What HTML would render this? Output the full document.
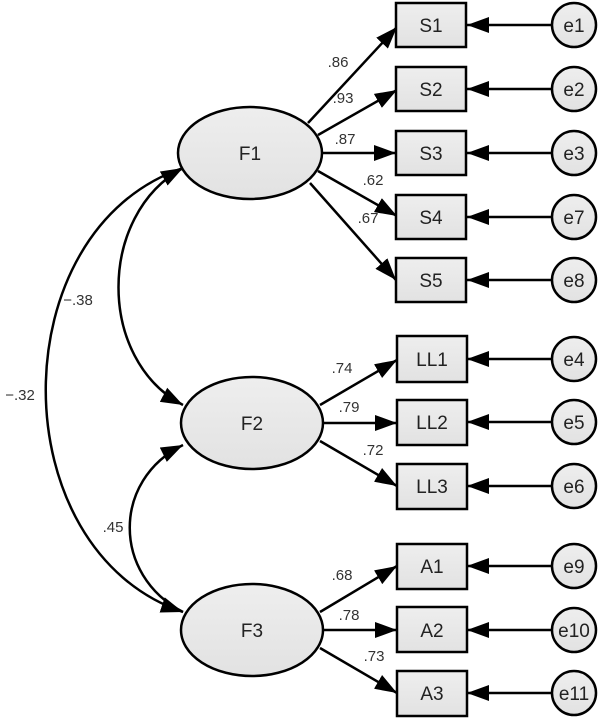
<!DOCTYPE html>
<html><head><meta charset="utf-8"><style>
html,body{margin:0;padding:0;background:#fff;}
svg{display:block;}
</style></head><body>
<svg width="603" height="720" viewBox="0 0 603 720" xmlns="http://www.w3.org/2000/svg">
<defs>
<marker id="a" viewBox="0 0 22 16" refX="22" refY="8" markerWidth="22" markerHeight="16" markerUnits="userSpaceOnUse" orient="auto-start-reverse">
<path d="M0,0 L22,8 L0,16 z" fill="#000"/></marker>
<linearGradient id="g" x1="0" y1="0" x2="0" y2="1"><stop offset="0" stop-color="#eeeeee"/><stop offset="1" stop-color="#e2e2e2"/></linearGradient>
</defs>
<g stroke="#000" stroke-width="2.5" fill="none">
<path d="M183,168 C0,230 0,550 183,612" marker-end="url(#a)"/>
<path d="M183,168 C97,215 97,360 183,405" marker-start="url(#a)" marker-end="url(#a)"/>
<path d="M183,445 C112,480 112,575 183,612" marker-start="url(#a)"/>
<path d="M308,123 L397,27" marker-end="url(#a)"/>
<path d="M318,135 L397,90" marker-end="url(#a)"/>
<path d="M322,153 L396,153" marker-end="url(#a)"/>
<path d="M318,171 L397,216" marker-end="url(#a)"/>
<path d="M310,183 L396,280" marker-end="url(#a)"/>
<path d="M320,405 L397,360" marker-end="url(#a)"/>
<path d="M324,423 L397,423" marker-end="url(#a)"/>
<path d="M320,441 L397,486" marker-end="url(#a)"/>
<path d="M320,612 L397,566" marker-end="url(#a)"/>
<path d="M324,630 L397,630" marker-end="url(#a)"/>
<path d="M320,648 L397,693" marker-end="url(#a)"/>
<path d="M552,25 L467,25" marker-end="url(#a)"/>
<path d="M552,89 L467,89" marker-end="url(#a)"/>
<path d="M552,153 L467,153" marker-end="url(#a)"/>
<path d="M552,217 L467,217" marker-end="url(#a)"/>
<path d="M552,280 L467,280" marker-end="url(#a)"/>
<path d="M552,359 L467,359" marker-end="url(#a)"/>
<path d="M552,422 L467,422" marker-end="url(#a)"/>
<path d="M552,486 L467,486" marker-end="url(#a)"/>
<path d="M552,566 L467,566" marker-end="url(#a)"/>
<path d="M552,630 L467,630" marker-end="url(#a)"/>
<path d="M552,693 L467,693" marker-end="url(#a)"/>
</g>
<g stroke="#000" stroke-width="2.5" fill="url(#g)">
<ellipse cx="250" cy="153" rx="72" ry="46"/>
<ellipse cx="252" cy="423" rx="71" ry="46"/>
<ellipse cx="252" cy="630" rx="71" ry="46"/>
<rect x="396" y="3" width="70" height="44"/>
<rect x="396" y="67" width="70" height="44"/>
<rect x="396" y="131" width="70" height="44"/>
<rect x="396" y="195" width="70" height="44"/>
<rect x="396" y="258" width="70" height="44"/>
<rect x="397" y="336" width="70" height="46"/>
<rect x="397" y="400" width="70" height="45"/>
<rect x="397" y="464" width="70" height="45"/>
<rect x="397" y="544" width="70" height="45"/>
<rect x="397" y="607" width="70" height="45"/>
<rect x="397" y="671" width="70" height="45"/>
<circle cx="574" cy="25" r="22"/>
<circle cx="574" cy="89" r="22"/>
<circle cx="574" cy="153" r="22"/>
<circle cx="574" cy="217" r="22"/>
<circle cx="574" cy="280" r="22"/>
<circle cx="574" cy="359" r="22"/>
<circle cx="574" cy="422" r="22"/>
<circle cx="574" cy="486" r="22"/>
<circle cx="574" cy="566" r="22"/>
<circle cx="574" cy="630" r="22"/>
<circle cx="574" cy="693" r="22"/>
</g>
<g font-family="Liberation Sans, sans-serif" font-size="19" fill="#222" text-anchor="middle">
<text x="250" y="160">F1</text><text x="252" y="430">F2</text><text x="252" y="637">F3</text>
<text x="431" y="32">S1</text><text x="431" y="96">S2</text><text x="431" y="160">S3</text><text x="431" y="224">S4</text><text x="431" y="287">S5</text>
<text x="432" y="366">LL1</text><text x="432" y="429">LL2</text><text x="432" y="493">LL3</text>
<text x="432" y="573">A1</text><text x="432" y="637">A2</text><text x="432" y="700">A3</text>
<text x="574" y="32">e1</text><text x="574" y="96">e2</text><text x="574" y="160">e3</text><text x="574" y="224">e7</text><text x="574" y="287">e8</text>
<text x="574" y="366">e4</text><text x="574" y="429">e5</text><text x="574" y="493">e6</text>
<text x="574" y="573">e9</text><text x="574" y="637">e10</text><text x="574" y="700">e11</text>
</g>
<g font-family="Liberation Sans, sans-serif" font-size="15" fill="#333" text-anchor="middle">
<text x="338" y="67">.86</text><text x="343" y="103">.93</text><text x="345" y="144">.87</text>
<text x="373" y="185">.62</text><text x="368" y="223">.67</text>
<text x="342" y="373">.74</text><text x="349" y="412">.79</text><text x="373" y="455">.72</text>
<text x="342" y="580">.68</text><text x="349" y="620">.78</text><text x="374" y="661">.73</text>
<text x="78" y="305">−.38</text><text x="20" y="400">−.32</text><text x="113" y="532">.45</text>
</g>
</svg>
</body></html>
